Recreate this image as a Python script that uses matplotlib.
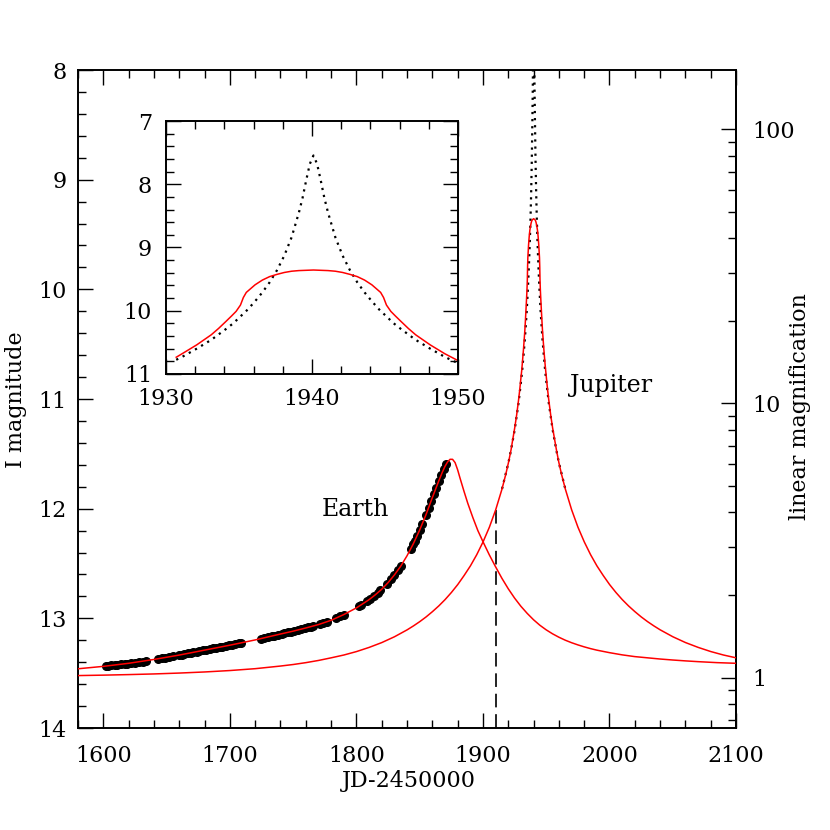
import numpy as np
import matplotlib
matplotlib.use("Agg")
import matplotlib.pyplot as plt
from matplotlib.ticker import MultipleLocator, FixedLocator, FuncFormatter

plt.rcParams['font.family'] = ['DejaVu Serif']

# ---------------- data ----------------
base_mag = 13.54   # I magnitude at linear magnification 1

earth_days = [1580, 1600, 1620, 1640, 1660, 1680, 1700, 1720, 1740, 1750, 1760, 1770,
              1780, 1790, 1800, 1810, 1815, 1820, 1825, 1830, 1835, 1840, 1845, 1850,
              1855, 1860, 1865, 1868, 1870, 1872, 1874, 1876, 1878, 1880, 1882, 1885,
              1888, 1892, 1896, 1900, 1905, 1910, 1915, 1920, 1925, 1930, 1935, 1940,
              1945, 1950, 1955, 1960, 1965, 1970, 1975, 1980, 1985, 1990, 2000, 2010,
              2020, 2030, 2040, 2050, 2060, 2070, 2085, 2100]
earth_mag = [13.46, 13.438, 13.41, 13.375, 13.335, 13.29, 13.245, 13.197, 13.143, 13.117, 13.088, 13.057,
             13.018, 12.966, 12.905, 12.83, 12.785, 12.735, 12.675, 12.605, 12.525, 12.43, 12.32, 12.195,
             12.055, 11.90, 11.75, 11.665, 11.615, 11.575, 11.55, 11.55, 11.58, 11.645, 11.725, 11.84,
             11.95, 12.08, 12.20, 12.30, 12.42, 12.53, 12.635, 12.73, 12.815, 12.89, 12.955, 13.013,
             13.063, 13.105, 13.141, 13.172, 13.199, 13.222, 13.242, 13.26, 13.276, 13.29, 13.313, 13.333,
             13.349, 13.36, 13.371, 13.38, 13.388, 13.395, 13.404, 13.41]

# Jupiter curve (finite source)
jup_days = [1580.0, 1600.1, 1620.1, 1640.1, 1660.1, 1680.1, 1700.1, 1720.1, 1740.1, 1750.1,
            1760.1, 1770.1, 1780.1, 1790.1, 1800.1, 1810.1, 1820.1, 1830.1, 1840.1, 1845.1,
            1850.1, 1855.1, 1860.1, 1865.1, 1870.1, 1875.1, 1880.1, 1885.1, 1890.1, 1895.1,
            1900.1, 1905.1, 1910.1, 1915.1, 1918.1, 1920.1, 1922.1,
            1925.1, 1926.6, 1928.1, 1929.1, 1930.1, 1930.7, 1931.1, 1932.1, 1933.1, 1933.6,
            1934.1, 1934.5, 1934.8, 1935.1, 1935.3, 1935.5, 1935.8, 1936.1, 1936.6, 1937.1,
            1937.6, 1938.1, 1938.6, 1939.1, 1940.1, 1941.1, 1941.6, 1942.1, 1942.6, 1943.1,
            1943.6, 1944.1, 1944.4, 1944.7, 1944.9, 1945.1, 1945.4, 1945.7, 1946.1, 1946.6,
            1947.1, 1948.1, 1949.1, 1950.1, 1951.1, 1952.1, 1953.6, 1955.1, 1958.1, 1960.1,
            1962.1, 1965.1, 1970.1, 1975.1, 1980.1, 1985.1, 1990.1, 1995.1, 2000.1, 2005.1,
            2010.1, 2015.1, 2020.1, 2025.1, 2030.1, 2035.1, 2040.1, 2050.1, 2060.1, 2070.1,
            2080.1, 2090.1, 2100.0]
jup_mag = [13.522, 13.518, 13.513, 13.507, 13.499, 13.489, 13.476, 13.459, 13.435, 13.421,
           13.404, 13.384, 13.360, 13.3345, 13.303, 13.265, 13.221, 13.168, 13.105, 13.069,
           13.030, 12.987, 12.939, 12.887, 12.829, 12.764, 12.692, 12.610, 12.522, 12.420,
           12.303, 12.169, 12.010, 11.820, 11.685, 11.584, 11.471,
           11.265, 11.15, 11.015, 10.915, 10.80, 10.735, 10.68, 10.54, 10.38, 10.28,
           10.17, 10.08, 10.01, 9.91, 9.79, 9.71, 9.65, 9.59, 9.515, 9.46,
           9.425, 9.395, 9.375, 9.365, 9.356, 9.365, 9.375, 9.395, 9.425, 9.46,
           9.515, 9.59, 9.65, 9.71, 9.79, 9.91, 10.01, 10.08, 10.17, 10.28,
           10.38, 10.54, 10.68, 10.80, 10.915, 11.015, 11.15, 11.265, 11.465, 11.584,
           11.685, 11.820, 12.010, 12.169, 12.303, 12.420, 12.522, 12.610, 12.692, 12.764,
           12.829, 12.887, 12.939, 12.987, 13.030, 13.069, 13.105, 13.168, 13.221, 13.265,
           13.303, 13.3345, 13.360]

# point-source Jupiter curve near the peak
pts_days = [1915.1, 1920.1, 1922.1, 1925.1, 1926.6, 1928.1, 1929.1, 1930.1, 1930.7, 1931.1,
            1932.1, 1933.1, 1934.1, 1934.6, 1935.1, 1935.6, 1936.1, 1936.6, 1937.1, 1937.6,
            1938.1, 1938.6, 1939.1, 1939.35, 1939.6, 1939.85, 1940.1, 1940.35, 1940.6, 1940.85,
            1941.1, 1941.6, 1942.1, 1942.6, 1943.1, 1943.6, 1944.1, 1944.6, 1945.1, 1945.6,
            1946.1, 1947.1, 1948.1, 1949.1, 1950.1, 1951.1, 1952.1, 1953.6, 1955.1, 1958.1,
            1960.1, 1965.1]
pts_mag = [11.82, 11.584, 11.471, 11.28, 11.16, 11.04, 10.94, 10.84, 10.775, 10.73,
           10.60, 10.46, 10.29, 10.20, 10.09, 9.98, 9.85, 9.71, 9.55, 9.36,
           9.13, 8.84, 8.45, 8.22, 7.94, 7.68, 7.545, 7.68, 7.94, 8.22,
           8.45, 8.84, 9.13, 9.36, 9.55, 9.71, 9.85, 9.98, 10.09, 10.20,
           10.29, 10.46, 10.60, 10.73, 10.84, 10.94, 11.04, 11.16, 11.28, 11.471,
           11.584, 11.82]

obs_days = [1602, 1604, 1606, 1609, 1611, 1614, 1617, 1619, 1622, 1625, 1628, 1631, 1634,
            1643, 1646, 1649, 1652, 1655,
            1660, 1662, 1664, 1667, 1669, 1671, 1674, 1676, 1679, 1681, 1684, 1687, 1689,
            1692, 1694, 1697, 1699, 1702, 1704, 1707, 1709,
            1725, 1727, 1730, 1733, 1735, 1738, 1741, 1743, 1746, 1748, 1751, 1754, 1756,
            1759, 1762, 1764, 1766,
            1771, 1774, 1777, 1784, 1787, 1790, 1802, 1804,
            1808, 1811, 1814, 1817, 1819, 1824, 1827, 1830, 1833, 1835,
            1843, 1845, 1846, 1848, 1850, 1852, 1855, 1857, 1859,
            1861, 1863, 1865, 1867, 1869, 1871]
obs_mag = [13.436, 13.433, 13.43, 13.427, 13.424, 13.42, 13.417, 13.413, 13.41, 13.405, 13.40, 13.395, 13.39,
           13.37, 13.365, 13.36, 13.352, 13.346,
           13.335, 13.33, 13.326, 13.32, 13.315, 13.31, 13.303, 13.30, 13.292, 13.288, 13.28, 13.273, 13.268,
           13.262, 13.257, 13.25, 13.245, 13.24, 13.235, 13.228, 13.223,
           13.184, 13.179, 13.17, 13.162, 13.157, 13.148, 13.14, 13.135, 13.127, 13.122, 13.114, 13.106, 13.10,
           13.091, 13.082, 13.076, 13.07,
           13.053, 13.042, 13.03, 12.998, 12.982, 12.966, 12.89, 12.875,
           12.845, 12.82, 12.795, 12.765, 12.745, 12.685, 12.645, 12.605, 12.555, 12.525,
           12.365, 12.32, 12.295, 12.245, 12.195, 12.14, 12.055, 11.995, 11.93,
           11.87, 11.81, 11.75, 11.695, 11.64, 11.595]

dash_day = 1910.0
dash_top_mag = 12.01

mag_ticks_major = [1, 10, 100]
mag_ticks_minor = [0.7, 0.8, 0.9, 2, 3, 4, 5, 6, 7, 8, 9, 20, 30, 40, 50, 60, 70, 80, 90]

# ---------------- figure ----------------
W = 830.0
fig = plt.figure(figsize=(8.3, 8.3), dpi=100)
ax = fig.add_axes([78 / W, (W - 728) / W, 658 / W, 658 / W])

RED = '#ff0000'
ax.plot(pts_days, pts_mag, color='black', lw=1.6, ls=(0, (1, 2.2)), zorder=2)
ax.plot(obs_days, obs_mag, 'o', color='black', ms=5.5, zorder=3)
ax.plot(earth_days, earth_mag, color=RED, lw=1.1, zorder=4)
ax.plot(jup_days, jup_mag, color=RED, lw=1.1, zorder=4)
ax.vlines(dash_day, dash_top_mag, 14, colors='#222222', lw=1.4,
          linestyles=[(0, (7, 3.5))], zorder=2)

ax.set_xlim(1580, 2100)
ax.set_ylim(14, 8)
ax.xaxis.set_major_locator(MultipleLocator(100))
ax.xaxis.set_minor_locator(MultipleLocator(20))
ax.yaxis.set_major_locator(MultipleLocator(1))
ax.yaxis.set_minor_locator(MultipleLocator(0.2))
ax.tick_params(which='both', direction='in', top=True, right=False, width=1.0,
               labelsize=16, color='black')
ax.tick_params(which='major', length=10.5)
ax.tick_params(which='minor', length=5.5)
ax.tick_params(axis='x', which='major', pad=12)
ax.tick_params(axis='y', which='major', pad=8)
for s in ax.spines.values():
    s.set_linewidth(1.4)

ax.text(1799, 12.01, 'Earth', fontsize=17, ha='center', va='center')
ax.text(2001, 10.88, 'Jupiter', fontsize=17, ha='center', va='center')


def mag2amp(m):
    return 10 ** (-0.4 * (np.asarray(m, dtype=float) - base_mag))


def amp2mag(a):
    a = np.clip(np.asarray(a, dtype=float), 1e-12, None)
    return base_mag - 2.5 * np.log10(a)


sec = ax.secondary_yaxis('right', functions=(mag2amp, amp2mag))
sec.yaxis.set_major_locator(FixedLocator(mag_ticks_major))
sec.yaxis.set_minor_locator(FixedLocator(mag_ticks_minor))
sec.yaxis.set_major_formatter(FuncFormatter(lambda v, p: f"{v:g}"))
sec.tick_params(which='both', direction='in', width=1.0, labelsize=16)
sec.tick_params(which='major', length=10.5, pad=12)
sec.tick_params(which='minor', length=5.5)
sec.spines['right'].set_linewidth(1.4)

fig.text(16 / W, 1 - 400 / W, 'I magnitude', rotation=90, fontsize=16,
         ha='center', va='center')
fig.text(800 / W, 1 - 407 / W, 'linear magnification', rotation=90, fontsize=16,
         ha='center', va='center')
fig.text(409 / W, 1 - 781 / W, 'JD-2450000', fontsize=16, ha='center', va='center')

# ---------------- inset ----------------
ins = fig.add_axes([166 / W, (W - 374) / W, 292 / W, 253 / W])
ins.set_facecolor('white')
sel_p = [i for i, d in enumerate(pts_days) if d >= 1930.7]
ins.plot([pts_days[i] for i in sel_p], [pts_mag[i] for i in sel_p],
         color='black', lw=1.6, ls=(0, (1, 2.2)))
sel_j = [i for i, d in enumerate(jup_days) if d >= 1930.7]
ins.plot([jup_days[i] for i in sel_j], [jup_mag[i] for i in sel_j], color=RED, lw=1.1)
ins.set_xlim(1930, 1950)
ins.set_ylim(11, 7)
ins.xaxis.set_major_locator(MultipleLocator(10))
ins.xaxis.set_minor_locator(MultipleLocator(2))
ins.yaxis.set_major_locator(MultipleLocator(1))
ins.yaxis.set_minor_locator(MultipleLocator(0.2))
ins.tick_params(which='both', direction='in', top=True, right=True, width=1.0,
                labelsize=16)
ins.tick_params(which='major', length=11)
ins.tick_params(which='minor', length=5.5)
ins.tick_params(axis='x', which='major', pad=10)
ins.tick_params(axis='y', which='major', pad=10)
for s in ins.spines.values():
    s.set_linewidth(1.4)

fig.savefig('out.png', dpi=100, facecolor='white')
